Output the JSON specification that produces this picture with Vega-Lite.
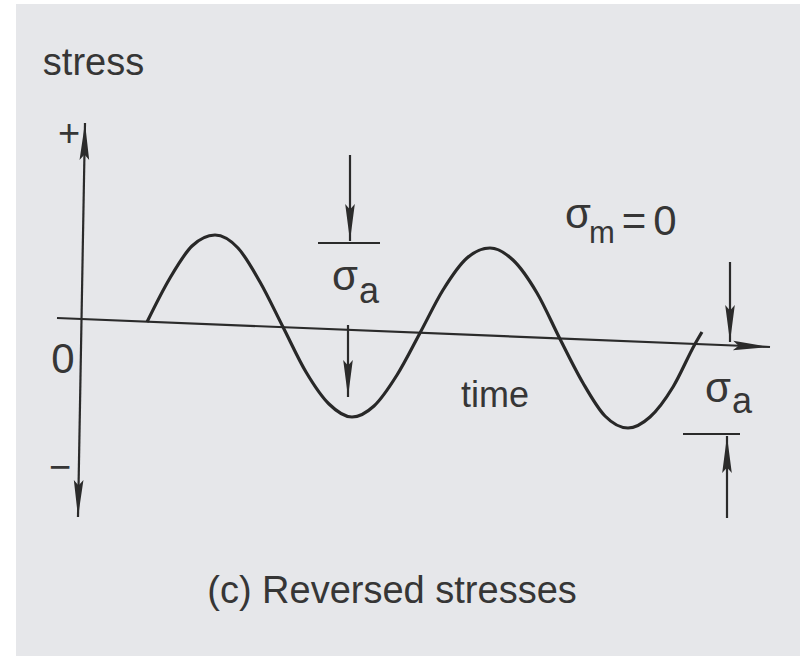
{
  "$schema": "https://vega.github.io/schema/vega-lite/v6.json",
  "width": 800,
  "height": 656,
  "autosize": {"type": "fit", "contains": "padding"},
  "padding": {"left": 16, "top": 4, "right": 0, "bottom": 0},
  "background": "#ffffff",
  "config": {
    "view": {"stroke": null, "fill": "#e6e7ea"},
    "text": {"font": "Liberation Sans, Arial, sans-serif", "color": "#363636", "baseline": "alphabetic", "align": "center"}
  },
  "datasets": {
    "wave": [
      {"x": 65, "y": -4}, {"x": 88, "y": 40}, {"x": 110, "y": 72}, {"x": 133, "y": 83},
      {"x": 156, "y": 70}, {"x": 178, "y": 36}, {"x": 201, "y": -9},
      {"x": 224, "y": -54}, {"x": 247, "y": -86}, {"x": 270, "y": -99}, {"x": 292, "y": -88},
      {"x": 315, "y": -57}, {"x": 338, "y": -15},
      {"x": 361, "y": 28}, {"x": 385, "y": 60}, {"x": 408, "y": 70}, {"x": 431, "y": 58},
      {"x": 455, "y": 25}, {"x": 478, "y": -21},
      {"x": 501, "y": -65}, {"x": 523, "y": -98}, {"x": 546, "y": -110}, {"x": 568, "y": -99},
      {"x": 591, "y": -69}, {"x": 613, "y": -26}, {"x": 620, "y": -14}
    ],
    "segments": [
      {"part": "stress axis", "x": 3, "y": 195, "x2": -4, "y2": -199},
      {"part": "time axis", "x": -25, "y": 0, "x2": 688, "y2": -29},
      {"part": "amplitude arrow top", "x": 268, "y": 163, "x2": 268, "y2": 77},
      {"part": "peak level", "x": 236, "y": 75, "x2": 298, "y2": 75},
      {"part": "amplitude arrow down", "x": 266, "y": -7, "x2": 266, "y2": -79},
      {"part": "right arrow down", "x": 648, "y": 56, "x2": 648, "y2": -24},
      {"part": "trough level", "x": 601, "y": -116, "x2": 658, "y2": -116},
      {"part": "right arrow up", "x": 645, "y": -200, "x2": 645, "y2": -118}
    ],
    "heads": [
      {"x": 3, "y": 195, "angle": 1},
      {"x": -4, "y": -199, "angle": 181},
      {"x": 688, "y": -29, "angle": 92.3},
      {"x": 268, "y": 77, "angle": 180},
      {"x": 266, "y": -79, "angle": 180},
      {"x": 648, "y": -24, "angle": 180},
      {"x": 645, "y": -118, "angle": 0}
    ],
    "words": [
      {"x": 11.5, "y": 243, "text": "stress"},
      {"x": 310, "y": -285, "text": "(c) Reversed stresses"}
    ],
    "axisword": [
      {"x": 413, "y": -89, "text": "time"}
    ],
    "numbers": [
      {"x": 552, "y": 83, "text": "="},
      {"x": 583, "y": 83, "text": "0"},
      {"x": -19, "y": -55, "text": "0"}
    ],
    "signs": [
      {"x": -13, "y": 172, "text": "+"},
      {"x": -22, "y": -162, "text": "−"}
    ],
    "sigmas": [
      {"x": 263, "y": 28, "text": "σ"},
      {"x": 496, "y": 90, "text": "σ"},
      {"x": 636, "y": -84, "text": "σ"}
    ],
    "subscripts": [
      {"x": 287, "y": 15, "text": "a"},
      {"x": 660, "y": -95, "text": "a"}
    ],
    "meanSubscript": [
      {"x": 520, "y": 75, "text": "m"}
    ]
  },
  "encoding": {
    "x": {"field": "x", "type": "quantitative", "axis": null, "scale": {"domain": [-66, 718], "nice": false, "zero": false}},
    "y": {"field": "y", "type": "quantitative", "axis": null, "scale": {"domain": [-338, 314], "nice": false, "zero": false}}
  },
  "layer": [
    {
      "data": {"name": "segments"},
      "mark": {"type": "rule", "color": "#2b2b2b", "strokeWidth": 2.2},
      "encoding": {
        "x2": {"field": "x2"},
        "y2": {"field": "y2"}
      }
    },
    {
      "data": {"name": "wave"},
      "mark": {"type": "line", "color": "#282828", "strokeWidth": 3.2, "interpolate": "monotone"},
      "encoding": {}
    },
    {
      "data": {"name": "heads"},
      "mark": {"type": "point", "shape": "M0,0L0.13,1L0,0.85L-0.13,1Z", "filled": true, "size": 5476, "color": "#2b2b2b", "opacity": 1},
      "encoding": {
        "angle": {"field": "angle", "type": "quantitative", "scale": null}
      }
    },
    {
      "data": {"name": "words"},
      "mark": {"type": "text", "fontSize": 38},
      "encoding": {"text": {"field": "text"}}
    },
    {
      "data": {"name": "axisword"},
      "mark": {"type": "text", "fontSize": 36},
      "encoding": {"text": {"field": "text"}}
    },
    {
      "data": {"name": "numbers"},
      "mark": {"type": "text", "fontSize": 42},
      "encoding": {"text": {"field": "text"}}
    },
    {
      "data": {"name": "signs"},
      "mark": {"type": "text", "fontSize": 38},
      "encoding": {"text": {"field": "text"}}
    },
    {
      "data": {"name": "sigmas"},
      "mark": {"type": "text", "fontSize": 42},
      "encoding": {"text": {"field": "text"}}
    },
    {
      "data": {"name": "subscripts"},
      "mark": {"type": "text", "fontSize": 36},
      "encoding": {"text": {"field": "text"}}
    },
    {
      "data": {"name": "meanSubscript"},
      "mark": {"type": "text", "fontSize": 31},
      "encoding": {"text": {"field": "text"}}
    }
  ]
}
